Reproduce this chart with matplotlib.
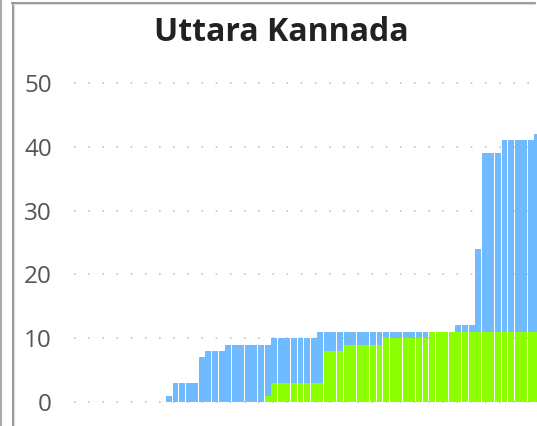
import numpy as np
import matplotlib
matplotlib.use("Agg")
import matplotlib.pyplot as plt
from matplotlib.lines import Line2D

# District name and daily cumulative counts
title = "Uttara Kannada"
confirmed = [0, 0, 0, 0, 0, 0, 0, 0, 0, 0, 0, 0, 0, 0,
             1, 3, 3, 3, 3, 7, 8, 8, 8, 9, 9, 9, 9, 9, 9, 9,
             10, 10, 10, 10, 10, 10, 10,
             11, 11, 11, 11, 11, 11, 11, 11, 11, 11, 11, 11, 11, 11, 11, 11,
             11, 11, 11, 11, 11,
             12, 12, 12, 24, 39, 39, 39, 41, 41, 41, 41, 41, 42]
recovered = [0, 0, 0, 0, 0, 0, 0, 0, 0, 0, 0, 0, 0, 0,
             0, 0, 0, 0, 0, 0, 0, 0, 0, 0, 0, 0, 0, 0, 0, 1,
             3, 3, 3, 3, 3, 3, 3, 3, 8, 8, 8, 9, 9, 9, 9, 9, 9,
             10, 10, 10, 10, 10, 10, 10,
             11, 11, 11, 11, 11, 11, 11, 11, 11, 11, 11, 11, 11, 11, 11, 11, 11]
y_ticks = [0, 10, 20, 30, 40, 50]

W, H = 537, 426
fig = plt.figure(figsize=(W / 100, H / 100), dpi=100)

# Axes run past the right/bottom edge, like a cropped screenshot
ax = fig.add_axes([73.5 / W, 0, 529.7 / W, (426 - 57.5) / H])
days = np.arange(len(confirmed))
ax.bar(days, confirmed, width=0.9, color="#70BBFF", antialiased=False, zorder=2)
ax.bar(days, recovered, width=0.9, color="#8CFF00", antialiased=False, zorder=3)
ax.set_xlim(-0.5, 80)
ax.set_ylim(-3.76, 54)

# Dotted grid lines behind the bars
for v in y_ticks:
    ax.axhline(v, color="#c4c4c4", lw=1.2, ls=(0, (1, 7.5)), zorder=1)

for s in ax.spines.values():
    s.set_visible(False)
ax.set_xticks([])
ax.set_yticks(y_ticks)
ax.tick_params(axis="y", length=0, pad=15.5, labelsize=17.5, labelcolor="#555555")
for lab in ax.get_yticklabels():
    lab.set_family("Open Sans")

fig.text(281 / W, 1 - 41 / H, title, ha="center", va="baseline",
         fontsize=23, fontweight="bold", family="Open Sans", color="#222222")

# Frame lines around the panel
def px_line(xs, ys, color, lw):
    fig.add_artist(Line2D([x / W for x in xs], [1 - y / H for y in ys],
                          transform=fig.transFigure, color=color, lw=lw))

px_line([1, 1], [0, H], "#999999", 1.2)
px_line([12.5, 12.5], [2.5, H], "#888888", 1.2)
px_line([12, 535], [2.5, 2.5], "#888888", 1.2)
px_line([14, 14], [4, H], "#dddddd", 0.8)
px_line([13, 535], [4, 4], "#dddddd", 0.8)

fig.savefig("out.png", dpi=100)
